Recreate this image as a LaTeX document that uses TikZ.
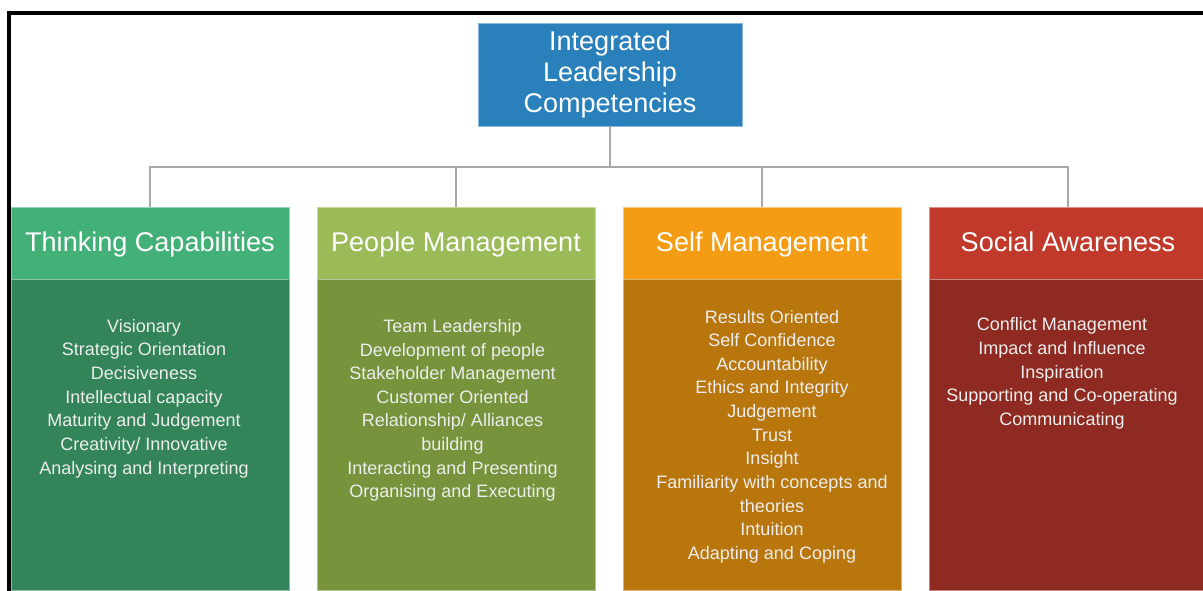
\documentclass[tikz,border=0pt]{standalone}
\usepackage{fontspec}
\setmainfont{Liberation Sans}
\usepackage{tikz}
\usetikzlibrary{positioning, calc}
\definecolor{tealblue}{RGB}{41,128,187}
\definecolor{leafgreen}{RGB}{67,176,120}
\definecolor{leafgreenDk}{RGB}{51,133,89}
\definecolor{olive}{RGB}{155,187,89}
\definecolor{oliveDk}{RGB}{119,147,60}
\definecolor{amber}{RGB}{243,156,20}
\definecolor{amberDk}{RGB}{184,118,12}
\definecolor{brick}{RGB}{192,57,43}
\definecolor{brickDk}{RGB}{142,42,34}
\definecolor{linkgray}{RGB}{168,168,168}

\begin{document}
\begin{tikzpicture}[x=0.02cm, y=-0.02cm,
    rootbox/.style={fill=tealblue, draw=tealblue!55!white, line width=0.4pt, text=white, minimum width=5.28cm, minimum height=2.06cm, align=center, inner sep=0pt, font=\fontsize{15.4}{17.6}\selectfont},
    headbox/.style={minimum width=5.56cm, minimum height=1.44cm, inner sep=0pt, line width=0.4pt, text=white, text height=12pt, text depth=2.5pt, font=\fontsize{15.4}{18}\selectfont},
    bodybox/.style={minimum width=5.56cm, minimum height=6.22cm, inner sep=0pt, line width=0.4pt},
    itemlist/.style={text=white!93!black, align=center, inner sep=0pt, font=\fontsize{10.25}{13.45}\selectfont},
    link/.style={draw=linkgray, line width=0.75pt}
  ]
    \clip (0,0) rectangle (1203,591);

    % frame
    \draw[line width=0.08cm] (1210,13) -- (9,13) -- (9,600);

    \node[rootbox, text depth=3pt] (root) at (610,74.5) {Integrated\\Leadership\\Competencies};

    \node[headbox, fill=leafgreen, draw=leafgreen!55!white] (h1) at (150,243) {Thinking Capabilities};
    \node[headbox, fill=olive, draw=olive!55!white] (h2) at (456,243) {People Management};
    \node[headbox, fill=amber, draw=amber!55!white] (h3) at (762,243) {Self Management};
    \node[headbox, fill=brick, draw=brick!55!white] (h4) at (1068,243) {Social Awareness};

    \node[bodybox, fill=leafgreenDk, draw=leafgreenDk!55!white, below=0pt of h1] (b1) {};
    \node[bodybox, fill=oliveDk, draw=oliveDk!55!white, below=0pt of h2] (b2) {};
    \node[bodybox, fill=amberDk, draw=amberDk!55!white, below=0pt of h3] (b3) {};
    \node[bodybox, fill=brickDk, draw=brickDk!55!white, below=0pt of h4] (b4) {};

    % tree lines
    \coordinate (bus) at (610,167);
    \draw[link] (root.south) -- (bus);
    \draw[link] (bus) -| (h1.north);
    \draw[link] (bus) -| (h2.north);
    \draw[link] (bus) -| (h3.north);
    \draw[link] (bus) -| (h4.north);

    \node[itemlist] (l1) at (144,398.5) {Visionary\\Strategic Orientation\\Decisiveness\\Intellectual capacity\\Maturity and Judgement\\Creativity/ Innovative\\Analysing and Interpreting};
    \node[itemlist] (l2) at (452.5,410.5) {Team Leadership\\Development of people\\Stakeholder Management\\Customer Oriented\\Relationship/ Alliances\\building\\Interacting and Presenting\\Organising and Executing};
    \node[itemlist] (l3) at (772,436.5) {Results Oriented\\Self Confidence\\Accountability\\Ethics and Integrity\\Judgement\\Trust\\Insight\\Familiarity with concepts and\\theories\\Intuition\\Adapting and Coping};
    \node[itemlist] (l4) at (1062,373.5) {Conflict Management\\Impact and Influence\\Inspiration\\Supporting and Co-operating\\Communicating};
\end{tikzpicture}
\end{document}
